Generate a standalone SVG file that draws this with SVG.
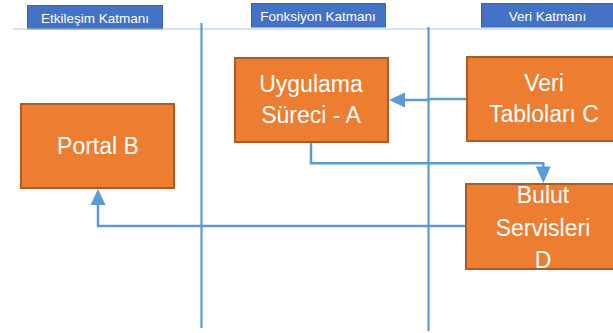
<svg xmlns="http://www.w3.org/2000/svg" width="613" height="333" viewBox="0 0 613 333">
<style>
.hdr{fill:#4472C4;stroke:#3A64AE;stroke-width:1}
.hdrt{font-family:"Liberation Sans",Arial,sans-serif;font-size:13.5px;fill:#fff;text-anchor:middle}
.lane{stroke:#5B9BD5;stroke-width:2.2;fill:none}
.node{fill:#ED7D31;stroke:#AE5A21;stroke-width:2}
.nt{font-family:"Liberation Sans",Arial,sans-serif;font-size:23px;fill:#fff;text-anchor:middle}
.con{stroke:#5B9BD5;stroke-width:2.5;fill:none}
.ah{fill:#5B9BD5}
</style>
<rect width="613" height="333" fill="#fff"/>
<g id="headers">
<rect class="hdr" x="27.5" y="5.5" width="135" height="23.5"/>
<text class="hdrt" x="95" y="22.5">Etkileşim Katmanı</text>
<rect class="hdr" x="251.5" y="3.5" width="134" height="23.5"/>
<text class="hdrt" x="318" y="20.5">Fonksiyon Katmanı</text>
<rect class="hdr" x="481.5" y="3.5" width="140" height="23.5"/>
<text class="hdrt" x="547.5" y="20.5">Veri Katmanı</text>
</g>
<g id="lanes">
<line x1="13" y1="29" x2="613" y2="29" stroke="#A9C8E8" stroke-width="1"/>
<line class="lane" x1="201.5" y1="23" x2="201.5" y2="328"/>
<line class="lane" x1="428.5" y1="27" x2="428.5" y2="331"/>
</g>
<g id="connectors">
<path class="con" d="M466,99 H428.5 V100 H404"/>
<polygon class="ah" points="389,100 405,92.5 405,107.5"/>
<path class="con" d="M311,143 V163.3 H543.3 V168"/>
<polygon class="ah" points="543.3,183 535.8,166.5 550.8,166.5"/>
<path class="con" d="M465,226 H98 V204"/>
<polygon class="ah" points="98,189 90.5,205 105.5,205"/>
</g>
<g id="nodeB">
<rect class="node" x="21" y="104" width="153" height="84"/>
<text class="nt" x="98" y="154">Portal B</text>
</g>
<g id="nodeA">
<rect class="node" x="235" y="58" width="153" height="84"/>
<text class="nt" x="311" y="92">Uygulama</text>
<text class="nt" x="311" y="123">Süreci - A</text>
</g>
<g id="nodeC">
<rect class="node" x="467" y="57" width="153" height="84"/>
<text class="nt" x="544" y="91">Veri</text>
<text class="nt" x="544" y="122">Tabloları C</text>
</g>
<g id="nodeD">
<rect class="node" x="466" y="184" width="153" height="85"/>
<text class="nt" x="543" y="203">Bulut</text>
<text class="nt" x="543" y="236">Servisleri</text>
<text class="nt" x="543" y="268">D</text>
</g>
</svg>
